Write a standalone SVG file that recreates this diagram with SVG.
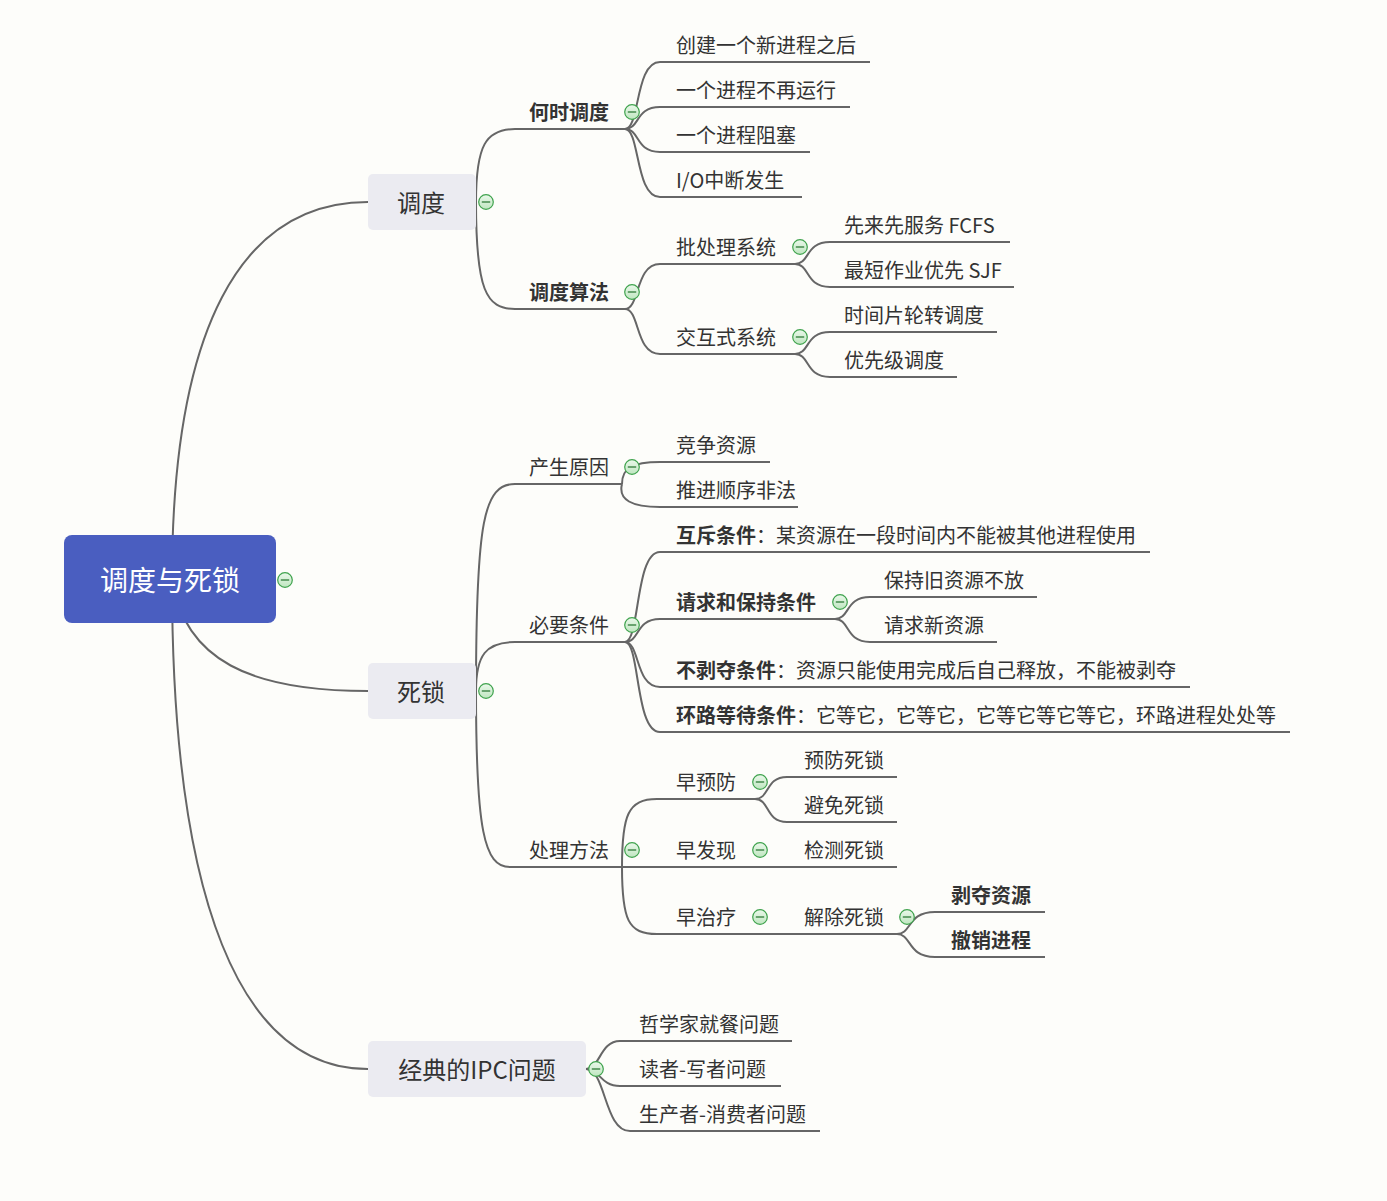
<svg xmlns="http://www.w3.org/2000/svg" xmlns:xlink="http://www.w3.org/1999/xlink" width="1387" height="1201" viewBox="0 0 1387 1201">
<style>
.l{fill:none;stroke:#666;stroke-width:2}
.t{font-family:"Noto Sans CJK SC","Microsoft YaHei",sans-serif;font-size:20px;fill:#333}
.b{font-weight:bold}
.n1{font-family:"Noto Sans CJK SC",sans-serif;font-size:24px;fill:#333;text-anchor:middle}
.root{font-family:"Noto Sans CJK SC",sans-serif;font-size:28px;fill:#fff;text-anchor:middle}
.box{fill:#ebebf1}
</style>
<defs>
<linearGradient id="gg" x1="0" y1="0" x2="0" y2="1"><stop offset="0" stop-color="#eaf8ea"/><stop offset="1" stop-color="#bfe6c0"/></linearGradient>
<g id="btn"><circle r="7.3" fill="url(#gg)" stroke="#3fa34d" stroke-width="1.2"/><line x1="-4.2" y1="0" x2="4.2" y2="0" stroke="#2d7a36" stroke-width="1.3"/></g>
</defs>
<rect width="1387" height="1201" fill="#fdfdfa"/>
<g id="connectors">
<path class="l" d="M172,580 C172,330 240,202 368,202"/>
<path class="l" d="M172,580 C185,660 250,691 368,691"/>
<path class="l" d="M172,580 C172,900 240,1069 368,1069"/>
<path class="l" d="M476,202 C476,145 486,129 515,129 H625"/>
<path class="l" d="M476,202 C476,290 486,309 515,309 H625"/>
<path class="l" d="M625,129 C640,129 635,62 660,62 H870"/>
<path class="l" d="M625,129 C640,129 635,107 660,107 H850"/>
<path class="l" d="M625,129 C640,129 635,152 660,152 H810"/>
<path class="l" d="M625,129 C640,129 635,197 660,197 H802"/>
<path class="l" d="M625,309 C640,309 635,264 660,264 H795"/>
<path class="l" d="M625,309 C640,309 635,354 660,354 H795"/>
<path class="l" d="M795,264 C810,264 805,242 830,242 H1010"/>
<path class="l" d="M795,264 C810,264 805,287 830,287 H1014"/>
<path class="l" d="M795,354 C810,354 805,332 830,332 H997"/>
<path class="l" d="M795,354 C810,354 805,377 830,377 H957"/>
<path class="l" d="M476,691 C476,520 484,484 515,484 H622"/>
<path class="l" d="M476,691 C476,655 486,642 515,642 H625"/>
<path class="l" d="M476,691 C476,830 484,867 510,867 H897"/>
<path class="l" d="M622,484 C622,468 632,462 660,462 H770"/>
<path class="l" d="M622,484 C618,500 632,507 660,507 H798"/>
<path class="l" d="M625,642 C640,642 635,552 660,552 H1150"/>
<path class="l" d="M625,642 C640,642 635,619 660,619 H835"/>
<path class="l" d="M625,642 C640,642 635,687 660,687 H1190"/>
<path class="l" d="M625,642 C640,642 635,732 660,732 H1290"/>
<path class="l" d="M835,619 C850,619 845,597 870,597 H1037"/>
<path class="l" d="M835,619 C850,619 845,642 870,642 H997"/>
<path class="l" d="M622,867 C622,815 628,799 657,799 H755"/>
<path class="l" d="M622,867 C622,920 628,934 657,934 H897"/>
<path class="l" d="M755,799 C770,799 765,777 787,777 H897"/>
<path class="l" d="M755,799 C770,799 765,822 787,822 H897"/>
<path class="l" d="M897,934 C912,934 907,912 935,912 H1045"/>
<path class="l" d="M897,934 C912,934 907,957 935,957 H1045"/>
<path class="l" d="M586,1069 C600,1069 600,1041 620,1041 H792"/>
<path class="l" d="M586,1069 C600,1069 600,1086 620,1086 H781"/>
<path class="l" d="M586,1069 C606,1069 604,1131 630,1131 H820"/>
</g>
<g id="root"><rect x="64" y="535" width="212" height="88" rx="8" fill="#4a5ec0"/><text class="root" x="170" y="591">调度与死锁</text><use href="#btn" x="285" y="580"/></g>
<g id="n-diaodu"><rect class="box" x="368" y="174" width="108" height="56" rx="5"/><text class="n1" x="421" y="212">调度</text><use href="#btn" x="486" y="202"/></g>
<g id="n-sisuo"><rect class="box" x="368" y="663" width="108" height="56" rx="5"/><text class="n1" x="421" y="701">死锁</text><use href="#btn" x="486" y="691"/></g>
<g id="n-ipc"><rect class="box" x="368" y="1041" width="218" height="56" rx="5"/><text class="n1" x="477" y="1079">经典的IPC问题</text><use href="#btn" x="596" y="1069"/></g>
<g id="n-heshi"><text class="t b" x="529" y="120">何时调度</text><use href="#btn" x="632" y="112"/></g>
<g id="n-l1"><text class="t" x="676" y="53">创建一个新进程之后</text></g>
<g id="n-l2"><text class="t" x="676" y="98">一个进程不再运行</text></g>
<g id="n-l3"><text class="t" x="676" y="143">一个进程阻塞</text></g>
<g id="n-l4"><text class="t" x="676" y="188">I/O中断发生</text></g>
<g id="n-suanfa"><text class="t b" x="529" y="300">调度算法</text><use href="#btn" x="632" y="292"/></g>
<g id="n-pichuli"><text class="t" x="676" y="255">批处理系统</text><use href="#btn" x="800" y="247"/></g>
<g id="n-fcfs"><text class="t" x="844" y="233">先来先服务 FCFS</text></g>
<g id="n-sjf"><text class="t" x="844" y="278">最短作业优先 SJF</text></g>
<g id="n-jiaohu"><text class="t" x="676" y="345">交互式系统</text><use href="#btn" x="800" y="337"/></g>
<g id="n-rr"><text class="t" x="844" y="323">时间片轮转调度</text></g>
<g id="n-prio"><text class="t" x="844" y="368">优先级调度</text></g>
<g id="n-yuanyin"><text class="t" x="529" y="475">产生原因</text><use href="#btn" x="632" y="467"/></g>
<g id="n-jingzheng"><text class="t" x="676" y="453">竞争资源</text></g>
<g id="n-tuijin"><text class="t" x="676" y="498">推进顺序非法</text></g>
<g id="n-biyao"><text class="t" x="529" y="633">必要条件</text><use href="#btn" x="632" y="625"/></g>
<g id="n-huchi"><text class="t" x="676" y="543"><tspan class="b">互斥条件</tspan>：某资源在一段时间内不能被其他进程使用</text></g>
<g id="n-qingqiu"><text class="t b" x="676" y="610">请求和保持条件</text><use href="#btn" x="840" y="602"/></g>
<g id="n-baochi"><text class="t" x="884" y="588">保持旧资源不放</text></g>
<g id="n-xinziyuan"><text class="t" x="884" y="633">请求新资源</text></g>
<g id="n-bubodu"><text class="t" x="676" y="678"><tspan class="b">不剥夺条件</tspan>：资源只能使用完成后自己释放，不能被剥夺</text></g>
<g id="n-huanlu"><text class="t" x="676" y="723"><tspan class="b">环路等待条件</tspan>：它等它，它等它，它等它等它等它，环路进程处处等</text></g>
<g id="n-chuli"><text class="t" x="529" y="858">处理方法</text><use href="#btn" x="632" y="850"/></g>
<g id="n-zaoyufang"><text class="t" x="676" y="790">早预防</text><use href="#btn" x="760" y="782"/></g>
<g id="n-yufang"><text class="t" x="804" y="768">预防死锁</text></g>
<g id="n-bimian"><text class="t" x="804" y="813">避免死锁</text></g>
<g id="n-zaofaxian"><text class="t" x="676" y="858">早发现</text><use href="#btn" x="760" y="850"/></g>
<g id="n-jiance"><text class="t" x="804" y="858">检测死锁</text></g>
<g id="n-zaozhiliao"><text class="t" x="676" y="925">早治疗</text><use href="#btn" x="760" y="917"/></g>
<g id="n-jiechu"><text class="t" x="804" y="925">解除死锁</text><use href="#btn" x="907" y="917"/></g>
<g id="n-boduo"><text class="t b" x="951" y="903">剥夺资源</text></g>
<g id="n-chexiao"><text class="t b" x="951" y="948">撤销进程</text></g>
<g id="n-zhexuejia"><text class="t" x="639" y="1032">哲学家就餐问题</text></g>
<g id="n-duzhe"><text class="t" x="639" y="1077">读者-写者问题</text></g>
<g id="n-shengchan"><text class="t" x="639" y="1122">生产者-消费者问题</text></g>
</svg>
